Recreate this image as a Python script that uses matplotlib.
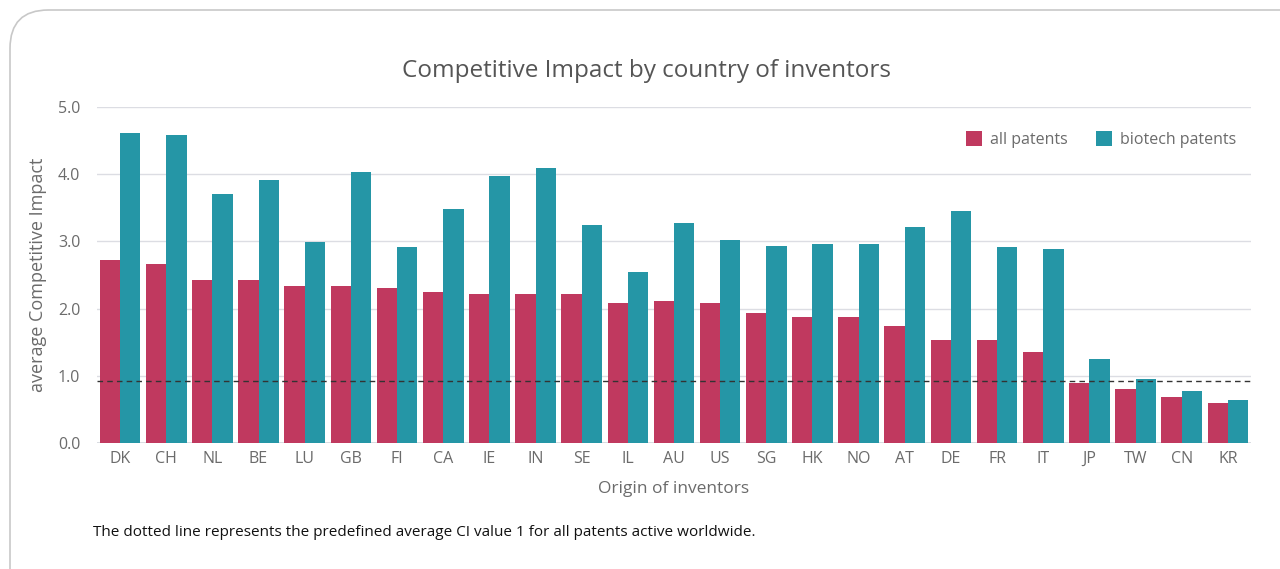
import matplotlib
import matplotlib.pyplot as plt
import numpy as np
from matplotlib.patches import FancyBboxPatch

matplotlib.use("Agg")

plt.rcParams["font.family"] = ["Open Sans", "DejaVu Sans"]

countries = ["DK", "CH", "NL", "BE", "LU", "GB", "FI", "CA", "IE", "IN", "SE", "IL", "AU",
             "US", "SG", "HK", "NO", "AT", "DE", "FR", "IT", "JP", "TW", "CN", "KR"]
all_patents = [2.73, 2.66, 2.42, 2.42, 2.33, 2.33, 2.30, 2.24, 2.21, 2.21, 2.21, 2.09, 2.11,
               2.08, 1.93, 1.87, 1.87, 1.74, 1.53, 1.53, 1.36, 0.89, 0.81, 0.69, 0.59]
biotech_patents = [4.61, 4.58, 3.71, 3.91, 2.99, 4.03, 2.91, 3.48, 3.97, 4.09, 3.25, 2.54, 3.28,
                   3.02, 2.93, 2.96, 2.96, 3.22, 3.45, 2.91, 2.88, 1.25, 0.95, 0.78, 0.64]
reference_ci = 0.92

PINK = "#C0395F"
TEAL = "#2596A6"
GREY = "#6b6b6b"

fig = plt.figure(figsize=(12.8, 5.69), dpi=100)

# rounded frame around the whole chart
frame = FancyBboxPatch((10 / 1280, -0.1), 1.1, 1.1 - 10 / 569,
                       boxstyle="round,pad=0,rounding_size=0.03",
                       transform=fig.transFigure, fill=False,
                       edgecolor="#c8c8c8", linewidth=1.2, mutation_aspect=1280 / 569)
fig.patches.append(frame)

ax = fig.add_axes([97 / 1280, 1 - 443 / 569, (1251 - 97) / 1280, (443 - 107) / 569])

x = np.arange(len(countries))
w = 0.44
ax.bar(x - w / 2, all_patents, width=w, color=PINK, label="all patents", zorder=2)
ax.bar(x + w / 2, biotech_patents, width=w, color=TEAL, label="biotech patents", zorder=2)

# reference line
ax.axhline(reference_ci, color="#333333", linestyle=(0, (4, 3)), linewidth=1, zorder=3)

ax.set_xlim(-0.5, len(countries) - 0.5)
ax.set_ylim(0, 5)
ax.set_yticks([0, 1, 2, 3, 4, 5])
ax.set_yticklabels([f"{v:.1f}" for v in range(6)])
ax.set_xticks(x)
ax.set_xticklabels(countries)

ax.grid(axis="y", color="#dcdde3", linewidth=1, zorder=0)
ax.axhline(0, color="#d5d8de", linewidth=2, zorder=1)
for s in ax.spines.values():
    s.set_visible(False)
ax.tick_params(axis="both", length=0, colors=GREY, labelsize=11.5)
ax.tick_params(axis="y", pad=12)
ax.tick_params(axis="x", pad=6)

ax.set_ylabel("average Competitive Impact", color=GREY, fontsize=13, labelpad=8)
ax.set_xlabel("Origin of inventors", color=GREY, fontsize=12.5, labelpad=10)

leg = ax.legend(loc="upper right", bbox_to_anchor=(1.0, 0.97), ncol=2, frameon=False,
                fontsize=11.5, handlelength=1.0, handleheight=1.0, columnspacing=1.8,
                handletextpad=0.5)
for t in leg.get_texts():
    t.set_color(GREY)

fig.text(646 / 1280, 1 - 71 / 569, "Competitive Impact by country of inventors",
         ha="center", va="center", fontsize=17.5, color="#555555")
fig.text(93 / 1280, 1 - 533 / 569,
         "The dotted line represents the predefined average CI value 1 for all patents active worldwide.",
         ha="left", va="center", fontsize=11, color="#111111")

fig.savefig("out.png", dpi=100)
